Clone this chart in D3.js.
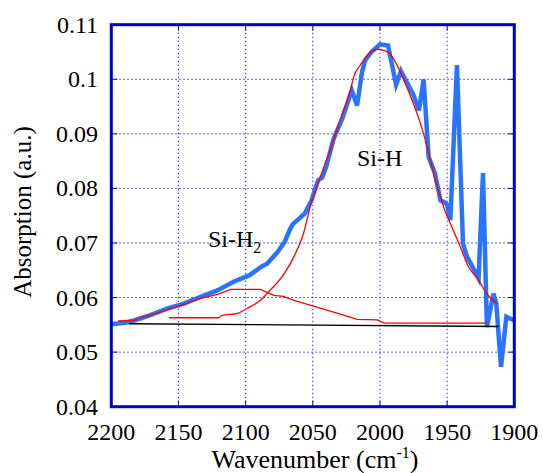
<!DOCTYPE html>
<html><head><meta charset="utf-8"><script src="https://cdn.jsdelivr.net/npm/d3@7"></script></head>
<body style="margin:0">
<svg id="c" width="543" height="473"></svg>
<script>
// Measured spectrum (wavenumber cm-1, absorbance)
const measuredWavenumber = [2200,2190,2183,2171,2158,2146,2134,2121,2109,2097,2088,2084,2076,2071,2067,2065,2060,2056,2051,2046,2043,2040,2034.5,2028,2021,2017,2013.4,2011,2006,2000,1994,1988,1984.4,1975,1971,1967.5,1963.8,1959,1955,1952,1950,1947.6,1942.7,1938.2,1935.2,1926.6,1923.3,1920.4,1915.5,1913.4,1909.9,1905.9,1900];
const measuredAbs = [0.0551,0.0554,0.0558,0.0568,0.0580,0.0589,0.0601,0.0613,0.0629,0.0641,0.0657,0.0662,0.0684,0.0702,0.0725,0.0734,0.0745,0.0754,0.0778,0.0815,0.0820,0.0840,0.0891,0.0928,0.0980,0.0952,0.1013,0.1035,0.1051,0.1064,0.1062,0.0990,0.1015,0.0971,0.0943,0.1000,0.0858,0.0827,0.0778,0.0775,0.0770,0.0742,0.1026,0.0699,0.0675,0.0635,0.0828,0.0546,0.0607,0.0589,0.0473,0.0565,0.0558];

// Fitted Si-H component
const siHWavenumber = [2157,2120,2118,2106,2099,2089,2082,2072,2064,2057,2051,2044.4,2040.7,2037,2029.5,2022,2019.6,2014.6,2009,2002,1996,1990,1985,1977.4,1970,1963.8,1958.8,1955,1952.6,1946.4,1940.2,1934,1926.6,1920.4,1913];
const siHAbs = [0.0563,0.0563,0.0567,0.0571,0.0580,0.0595,0.0613,0.0641,0.0675,0.0717,0.0775,0.0821,0.0846,0.0870,0.0927,0.0980,0.1004,0.1026,0.1045,0.1055,0.1052,0.1038,0.1014,0.0970,0.0920,0.0866,0.0815,0.0785,0.0766,0.0729,0.0693,0.0656,0.0632,0.0607,0.0589];

// Fitted Si-H2 component
const siH2Wavenumber = [2195,2183,2178.5,2171,2158.6,2146,2134,2121,2111,2089,2079,2072,2064,2052,2039.5,2027,2017,2002,1997,1920.4];
const siH2Abs = [0.0557,0.0558,0.0563,0.0568,0.0577,0.0587,0.0598,0.0606,0.0615,0.0615,0.0604,0.0602,0.0595,0.0586,0.0577,0.0568,0.0560,0.0559,0.0553,0.0553];

// Baseline
const baseWavenumber = [2187,1911.6];
const baseAbs = [0.0552,0.0547];

const xTicks = [2200,2150,2100,2050,2000,1950,1900];
const xTickLabels = ["2200","2150","2100","2050","2000","1950","1900"];
const yTicks = [0.04,0.05,0.06,0.07,0.08,0.09,0.10,0.11];
const yTickLabels = ["0.04","0.05","0.06","0.07","0.08","0.09","0.1","0.11"];

const FONT = "'Liberation Serif'";
const svg = d3.select("#c");
const L = 111.3, R = 514.3, T = 24.7, B = 406.7;
const x = d3.scaleLinear().domain([2200,1900]).range([L,R]);
const y = d3.scaleLinear().domain([0.04,0.11]).range([B,T]);
const frameColor = "#0000cc";

const grid = svg.append("g");
grid.selectAll(".gx").data(xTicks.slice(1,-1)).enter().append("line")
  .attr("x1",d=>x(d)).attr("x2",d=>x(d)).attr("y1",T).attr("y2",B)
  .attr("stroke","#2a2ae0").attr("stroke-width",1).attr("stroke-dasharray","1.5,2.5");
grid.selectAll(".gy").data(yTicks.slice(1,-1)).enter().append("line")
  .attr("y1",d=>y(d)).attr("y2",d=>y(d)).attr("x1",L).attr("x2",R)
  .attr("stroke","#2a2ae0").attr("stroke-width",1).attr("stroke-dasharray","1.5,2.5");

const tk = 6;
const ticks = svg.append("g").attr("stroke",frameColor).attr("stroke-width",1);
xTicks.slice(1,-1).forEach(d=>{
  ticks.append("line").attr("x1",x(d)).attr("x2",x(d)).attr("y1",B).attr("y2",B-tk);
  ticks.append("line").attr("x1",x(d)).attr("x2",x(d)).attr("y1",T).attr("y2",T+tk);
});
yTicks.slice(1,-1).forEach(d=>{
  ticks.append("line").attr("x1",L).attr("x2",L+tk).attr("y1",y(d)).attr("y2",y(d));
  ticks.append("line").attr("x1",R).attr("x2",R-tk).attr("y1",y(d)).attr("y2",y(d));
});

const line = d3.line().x(d=>x(d[0])).y(d=>y(d[1]));
const zip = (a,b)=>a.map((v,i)=>[v,b[i]]);

const plot = svg.append("g");
plot.append("path").datum(zip(measuredWavenumber,measuredAbs)).attr("d",line)
  .attr("fill","none").attr("stroke","#2a73ff").attr("stroke-width",4.5);
plot.append("path").datum(zip(baseWavenumber,baseAbs)).attr("d",line)
  .attr("fill","none").attr("stroke","#000").attr("stroke-width",1.3);
plot.append("path").datum(zip(siH2Wavenumber,siH2Abs)).attr("d",line)
  .attr("fill","none").attr("stroke","#ff0000").attr("stroke-width",1.3);
plot.append("path").datum(zip(siHWavenumber,siHAbs)).attr("d",d3.line().x(d=>x(d[0])).y(d=>y(d[1])).curve(d3.curveMonotoneX))
  .attr("fill","none").attr("stroke","#ff0000").attr("stroke-width",1.3);

svg.append("rect").attr("x",L).attr("y",T).attr("width",R-L).attr("height",B-T)
  .attr("fill","none").attr("stroke",frameColor).attr("stroke-width",3);

svg.selectAll(".xl").data(xTicks).enter().append("text")
  .attr("x",d=>x(d)).attr("y",439.5).attr("text-anchor","middle")
  .attr("font-size",24).style("font-family",FONT).text((d,i)=>xTickLabels[i]);
svg.selectAll(".yl").data(yTicks).enter().append("text")
  .attr("x",98).attr("y",d=>y(d)+8).attr("text-anchor","end")
  .attr("font-size",24).style("font-family",FONT).text((d,i)=>yTickLabels[i]);

const xt = svg.append("text").attr("x",315).attr("y",467.5).attr("text-anchor","middle")
  .attr("font-size",26).style("font-family",FONT);
xt.append("tspan").text("Wavenumber (cm");
xt.append("tspan").attr("font-size",16).attr("dy",-10).text("-1");
xt.append("tspan").attr("dy",10).text(")");

svg.append("text").attr("transform","translate(31,212) rotate(-90)")
  .attr("text-anchor","middle").attr("font-size",25).style("font-family",FONT).text("Absorption (a.u.)");

svg.append("text").attr("x",357).attr("y",166).attr("font-size",24).style("font-family",FONT).text("Si-H");
const s2 = svg.append("text").attr("x",208).attr("y",247).attr("font-size",24).style("font-family",FONT);
s2.append("tspan").text("Si-H");
s2.append("tspan").attr("font-size",16).attr("dy",6).text("2");
</script></body></html>
